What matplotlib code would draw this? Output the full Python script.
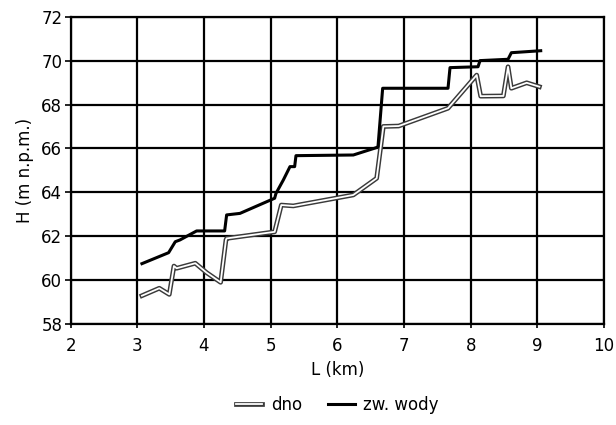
import matplotlib.pyplot as plt
import matplotlib.patheffects as pe

plt.rcParams['font.family'] = ['DejaVu Sans']

# ── data ──
dno_x = [3.07, 3.33, 3.48, 3.55, 3.59, 3.87, 4.04, 4.25, 4.33, 4.34, 5.06, 5.16,
         5.34, 6.24, 6.59, 6.69, 6.92, 7.66, 8.09, 8.15, 8.49, 8.56, 8.61, 8.84, 9.03]
dno_y = [59.29, 59.63, 59.35, 60.64, 60.54, 60.77, 60.34, 59.90, 61.83, 61.90, 62.20, 63.42,
         63.38, 63.88, 64.64, 67.00, 67.02, 67.83, 69.34, 68.38, 68.39, 69.72, 68.74, 68.99, 68.81]

wody_x = [3.07, 3.47, 3.57, 3.64, 3.89, 4.31, 4.34, 4.54, 5.06, 5.08, 5.19, 5.29,
          5.36, 5.38, 6.24, 6.58, 6.61, 6.68, 7.66, 7.69, 8.11, 8.14, 8.56, 8.61, 9.05]
wody_y = [60.75, 61.25, 61.75, 61.83, 62.24, 62.24, 62.97, 63.04, 63.73, 63.95, 64.56, 65.17,
          65.17, 65.67, 65.70, 66.03, 66.08, 68.74, 68.74, 69.68, 69.72, 70.00, 70.06, 70.36, 70.45]

fig = plt.figure(figsize=(6.16, 4.25), dpi=100)
ax = fig.add_axes([0.1146, 0.2376, 0.866, 0.7231])

ax.plot(dno_x, dno_y, color='white', lw=1.3, zorder=3, label='dno',
        path_effects=[pe.Stroke(linewidth=3.4, foreground='#3a3a3a'), pe.Normal()])
ax.plot(wody_x, wody_y, color='black', lw=2.2, zorder=3, label='zw. wody')

ax.set_xlim(2, 10)
ax.set_ylim(58, 72)
ax.set_xticks(range(2, 11))
ax.set_yticks(range(58, 73, 2))
ax.grid(True, color='black', lw=1.6)
for s in ax.spines.values():
    s.set_linewidth(1.6)
ax.tick_params(axis='y', direction='out', length=4, width=1.2, labelsize=12, pad=2)
ax.tick_params(axis='x', direction='inout', length=6, width=1.2, labelsize=12, pad=6)

ax.set_xlabel('L (km)', fontsize=12, labelpad=5)
ax.set_ylabel('H (m n.p.m.)', fontsize=12, labelpad=5)

ax.legend(loc='center', bbox_to_anchor=(0.5, -0.262), ncol=2, frameon=False,
          fontsize=12, handlelength=1.6, columnspacing=1.6, handletextpad=0.5)

fig.savefig('out.png', dpi=100)
